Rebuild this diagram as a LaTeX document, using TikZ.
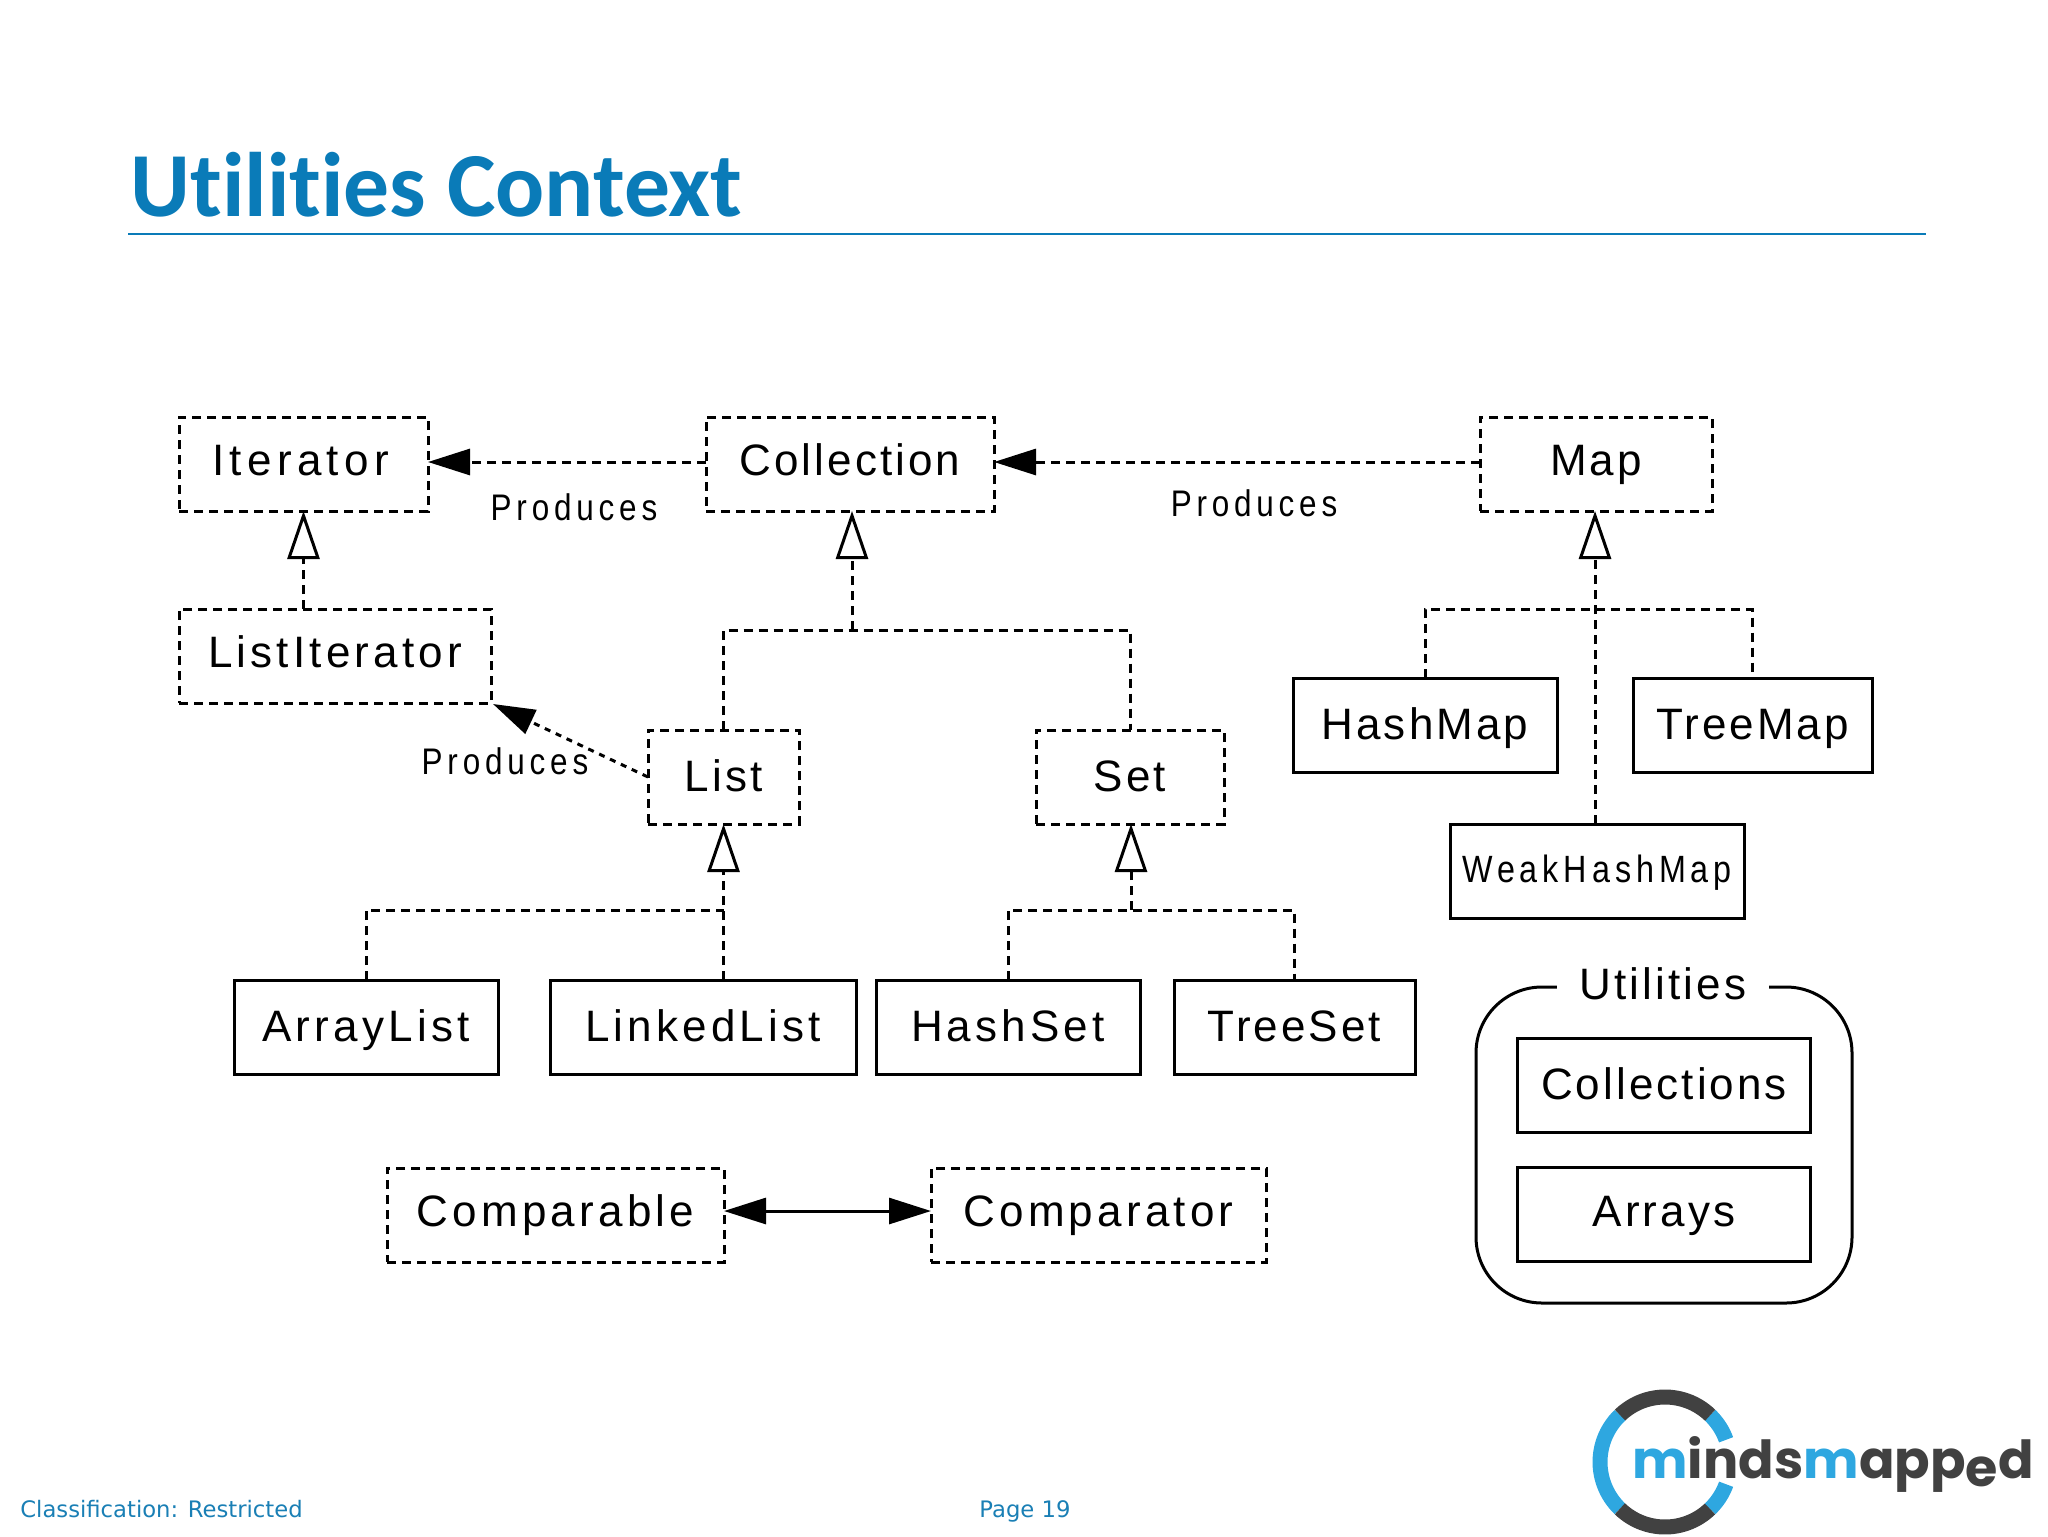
\documentclass[tikz,border=0pt]{standalone}
\usepackage{fontspec}
\usetikzlibrary{arrows.meta,positioning,calc}
\setmainfont{Liberation Sans}
\newfontfamily\titlefont{Carlito}[BoldFont={Carlito Bold},Ligatures=CommonOff]
\newfontfamily\footfont{DejaVu Sans}
\newfontfamily\logofont{Poppins}[BoldFont={Poppins Bold}]
\newfontfamily\boxfont{Liberation Sans}[LetterSpace=7]
\newfontfamily\boxfontB{Liberation Sans}[LetterSpace=9.5]
\newfontfamily\boxfontC{Liberation Sans}[LetterSpace=12]
\newfontfamily\narrowfont{Liberation Sans}[FakeStretch=0.85,LetterSpace=13]
\definecolor{slideblue}{HTML}{0A7BB8}
\definecolor{footblue}{HTML}{1A7FB5}
\definecolor{logoblue}{HTML}{2EA7E0}
\definecolor{logodark}{HTML}{414141}
\newcommand{\ringseg}[3]{\draw[line width=7.5pt,#1] plot[domain=#2:#3,samples=30] ({1665+65*cos(\x)},{1462-65*sin(\x)});}
\tikzset{
  x=0.5pt,y=-0.5pt,
  cls/.style={draw=black,line width=1.5pt,inner sep=0pt,outer sep=0pt,
    minimum height=47pt,text height=14pt,text depth=0pt,
    font=\boxfont\fontsize{22pt}{24pt}\selectfont},
  wide/.style={font=\boxfontB\fontsize{22pt}{24pt}\selectfont},
  wider/.style={font=\boxfontC\fontsize{22pt}{24pt}\selectfont},
  iface/.style={cls,dash pattern=on 4.5pt off 3pt},
  dep/.style={line width=1.5pt,dash pattern=on 4.5pt off 3pt},
  inh/.style={dep,-{Triangle[open,length=24pt,width=16pt,fill=white]}},
  prod/.style={dep,-{Triangle[length=21pt,width=13pt]}},
  lbl/.style={inner sep=0pt,font=\narrowfont\fontsize{18.5pt}{20pt}\selectfont},
  foot/.style={inner sep=0pt,anchor=base west,text=footblue,font=\footfont\fontsize{11.35pt}{13pt}\selectfont},
}
\begin{document}
\begin{tikzpicture}
\useasboundingbox (0,0) rectangle (2048,1536);
% title
\node[inner sep=0pt,anchor=base west,text=slideblue,font=\titlefont\bfseries\fontsize{45.8pt}{48pt}\selectfont] (title) at (130,216) {Utilities Context};
\coordinate (ruleL) at (128,234);
\coordinate (ruleR) at (1926,234);
\draw[slideblue,line width=0.6pt] (ruleL) -- (ruleR);
% interface boxes
\node[iface,wider,minimum width=124.5pt,text height=11.5pt] (itl) at (303.5,464) {Iterator\kern3pt};
\node[iface,minimum width=144pt,text height=11.5pt] (coll) at (850,464) {Collection};
\node[iface,minimum width=116pt,text height=11.5pt] (map) at (1596,464) {Map};
\node[iface,wide,minimum width=156pt,text height=11pt] (lit) at (335,656) {ListIterator};
\node[iface,minimum width=75.5pt] (list) at (723.5,777) {List};
\node[iface,minimum width=94pt] (set) at (1130,777) {Set};
\node[iface,wide,minimum width=168.5pt,text height=11.5pt] (cmp) at (555.5,1215) {Comparable};
\node[iface,wide,minimum width=167.5pt,text height=11.5pt] (cmpr) at (1098.5,1215) {Comparator};
% class boxes
\node[cls,minimum width=132pt] (hm) at (1425,725) {HashMap};
\node[cls,minimum width=119.5pt] (tm) at (1752.5,725) {TreeMap};
\node[cls,minimum width=147pt,text height=11pt,font=\narrowfont\fontsize{19pt}{20pt}\selectfont] (whm) at (1597,871) {WeakHashMap};
\node[cls,wide,minimum width=132pt] (al) at (366,1027) {ArrayList};
\node[cls,wide,minimum width=153pt] (ll) at (703,1027) {LinkedList};
\node[cls,wide,minimum width=132pt] (hs) at (1008,1027) {HashSet};
\node[cls,minimum width=120.5pt] (ts) at (1294.5,1027) {TreeSet};
% utilities group
\node[draw=black,line width=1.5pt,inner sep=0pt,outer sep=0pt,rounded corners=33pt,minimum width=188pt,minimum height=158pt] (ug) at (1664,1145) {};
\node[inner sep=0pt,outer sep=0pt,fill=white,minimum width=106pt,minimum height=24pt,text height=15pt,text depth=0pt,font=\boxfont\fontsize{22pt}{24pt}\selectfont] (ul) at (1663,984) {Utilities};
\node[cls,minimum width=146.5pt] (cs) at (1664,1085.5) {Collections};
\node[cls,minimum width=146.5pt,text height=11.5pt] (ar) at (1664,1214.5) {Arrays};
% inheritance: Iterator
\draw[inh] (lit.north -| itl.south) -- (itl.south);
% Collection hierarchy
\coordinate (cbus) at (852,630);
\draw[inh] (cbus) -- (cbus |- coll.south);
\draw[dep] (list.north) |- (cbus) -| (set.north);
% Map hierarchy
\coordinate (mbus) at (1595,609);
\draw[inh] (whm.north -| mbus) -- (map.south -| mbus);
\draw[dep] (hm.north) |- (mbus) -| (tm.north);
% List hierarchy
\coordinate (lbus) at (723.5,910);
\draw[inh] (ll.north -| lbus) -- (list.south -| lbus);
\draw[dep] (al.north) |- (lbus);
% Set hierarchy
\coordinate (sbus) at (1131,910);
\draw[inh] (sbus) -- (set.south -| sbus);
\draw[dep] (hs.north) |- (sbus) -| (ts.north);
% produces
\draw[prod] ([yshift=1pt]coll.west) -- ([yshift=1pt]itl.east);
\draw[prod] ([yshift=1pt]map.west) -- ([yshift=1pt]coll.east);
\coordinate (litTip) at (493,704);
\draw[prod,dash pattern=on 3pt off 3pt] (list.west) -- (litTip);
\draw[line width=1.5pt,{Triangle[length=21pt,width=13pt]}-{Triangle[length=21pt,width=13pt]}] ([yshift=2pt]cmp.east) -- ([yshift=2pt]cmpr.west);
\node[lbl] (p1) at (574,507) {Produces};
\node[lbl] (p2) at (1254,503) {Produces};
\node[lbl] (p3) at (505,761) {Produces};
% footer
\node[foot] (fc) at (20,1517) {Classification: Restricted};
\node[foot] (fp) at (979,1517) {Page 19};
% logo
\ringseg{logoblue}{20}{46}
\ringseg{logodark}{46}{134}
\ringseg{logoblue}{134}{226}
\ringseg{logodark}{226}{314}
\ringseg{logoblue}{314}{340}
\node[inner sep=0pt,anchor=base west,text=logodark,font=\logofont\bfseries\fontsize{26.2pt}{28pt}\selectfont] (logo) at (1632,1478) {\textcolor{logoblue}{m}inds\textcolor{logoblue}{m}app\raisebox{-4pt}{e}d};
\end{tikzpicture}
\end{document}
